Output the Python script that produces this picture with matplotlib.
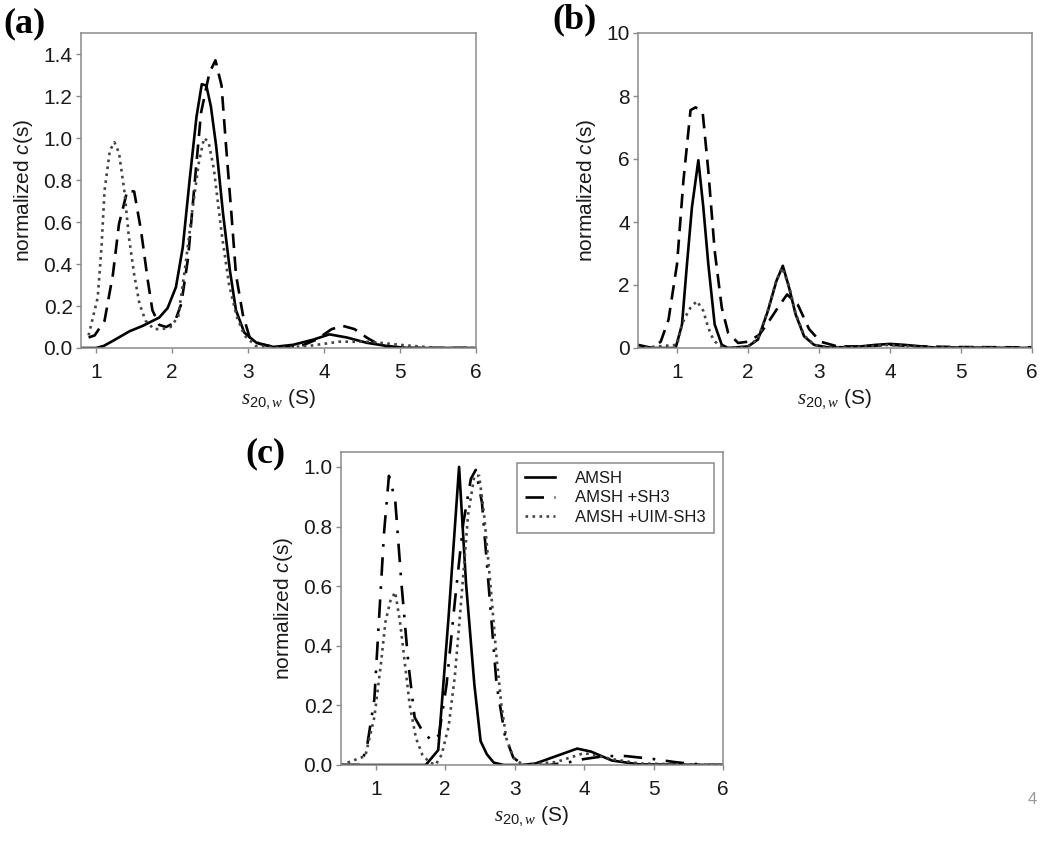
import numpy as np
import matplotlib.pyplot as plt

plt.rcParams['font.family'] = ['Liberation Sans', 'DejaVu Sans']
plt.rcParams['mathtext.fontset'] = 'custom'
plt.rcParams['mathtext.it'] = 'Liberation Serif:italic'
plt.rcParams['mathtext.rm'] = 'Liberation Sans'
plt.rcParams['mathtext.sf'] = 'Liberation Sans:italic'

# %% data
names = ['AMSH', 'AMSH +SH3', 'AMSH +UIM-SH3']

# (a)
a_amsh_x = [0.8, 1.0, 1.1, 1.22, 1.44, 1.61, 1.83, 1.94, 2.05, 2.14, 2.23, 2.32, 2.39, 2.45, 2.51, 2.58,
            2.67, 2.76, 2.84, 2.95, 3.11, 3.33, 3.59, 3.86, 4.07, 4.3, 4.56, 4.82, 5.1, 6.0]
a_amsh_y = [0.0, 0.0, 0.01, 0.034, 0.08, 0.105, 0.145, 0.19, 0.29, 0.48, 0.80, 1.10, 1.256, 1.25, 1.15, 0.96,
            0.64, 0.37, 0.18, 0.073, 0.025, 0.005, 0.015, 0.04, 0.065, 0.05, 0.025, 0.01, 0.0, 0.0]
a_sh3_x = [0.9, 0.98, 1.11, 1.22, 1.30, 1.41, 1.50, 1.59, 1.68, 1.74, 1.83, 1.92, 2.03, 2.12, 2.21, 2.30, 2.38,
           2.49, 2.57, 2.65, 2.71, 2.78, 2.84, 2.93, 3.02, 3.15, 3.4, 3.7, 3.9, 4.1, 4.25, 4.4, 4.56, 4.75, 5.0, 6.0]
a_sh3_y = [0.05, 0.06, 0.13, 0.35, 0.59, 0.75, 0.745, 0.56, 0.32, 0.18, 0.11, 0.10, 0.12, 0.21, 0.43, 0.80, 1.12,
           1.31, 1.37, 1.25, 0.96, 0.64, 0.35, 0.16, 0.05, 0.02, 0.0, 0.01, 0.04, 0.09, 0.105, 0.09, 0.05, 0.01, 0.0, 0.0]
a_uim_x = [0.9, 1.02, 1.07, 1.11, 1.18, 1.24, 1.30, 1.37, 1.43, 1.50, 1.57, 1.65, 1.76, 1.87, 1.98, 2.08, 2.17,
           2.26, 2.35, 2.42, 2.48, 2.55, 2.65, 2.75, 2.85, 2.95, 3.1, 3.4, 3.8, 4.2, 4.6, 5.0, 5.5, 6.0]
a_uim_y = [0.06, 0.24, 0.48, 0.75, 0.94, 0.98, 0.93, 0.75, 0.53, 0.35, 0.21, 0.13, 0.09, 0.09, 0.10, 0.15, 0.38,
           0.64, 0.88, 1.0, 0.98, 0.85, 0.55, 0.3, 0.15, 0.06, 0.01, 0.0, 0.01, 0.03, 0.03, 0.015, 0.0, 0.0]

# (b)
b_amsh_x = [0.45, 0.98, 1.07, 1.14, 1.21, 1.30, 1.37, 1.44, 1.53, 1.63, 1.72, 2.0, 2.14, 2.28, 2.40, 2.49, 2.58,
            2.67, 2.79, 2.93, 3.12, 3.5, 3.8, 4.0, 4.2, 4.6, 6.0]
b_amsh_y = [0, 0, 0.75, 2.67, 4.47, 5.96, 4.47, 2.67, 0.75, 0.1, 0.0, 0.05, 0.27, 1.18, 2.13, 2.61, 1.9,
            1.07, 0.37, 0.1, 0.02, 0.03, 0.1, 0.13, 0.1, 0.02, 0.0]
b_sh3_x = [0.45, 0.55, 0.65, 0.77, 0.88, 1.0, 1.09, 1.19, 1.26, 1.36, 1.44, 1.53, 1.63, 1.72, 1.86, 2.0, 2.16,
           2.28, 2.42, 2.55, 2.70, 2.86, 3.02, 3.26, 3.6, 4.0, 4.4, 5.0, 6.0]
b_sh3_y = [0.1, 0.05, 0.0, 0.2, 0.9, 2.67, 5.32, 7.55, 7.64, 7.5, 5.64, 3.09, 1.28, 0.48, 0.16, 0.2, 0.42,
           0.8, 1.28, 1.7, 1.38, 0.6, 0.2, 0.05, 0.05, 0.1, 0.05, 0.03, 0.02]
b_uim_x = [0.45, 1.0, 1.07, 1.12, 1.19, 1.28, 1.37, 1.44, 1.51, 1.60, 1.75, 2.0, 2.14, 2.28, 2.40, 2.48, 2.58,
           2.67, 2.79, 2.93, 3.12, 3.5, 4.0, 4.5, 6.0]
b_uim_y = [0, 0.1, 0.75, 1.0, 1.28, 1.49, 1.18, 0.64, 0.27, 0.05, 0.0, 0.05, 0.3, 1.2, 2.15, 2.55, 1.95,
           1.1, 0.4, 0.1, 0.02, 0.02, 0.1, 0.02, 0.0]

# (c)
c_amsh_x = [0.5, 1.72, 1.81, 1.90, 2.05, 2.20, 2.30, 2.42, 2.51, 2.60, 2.70, 2.84, 3.1, 3.3, 3.6, 3.9, 4.1,
            4.4, 4.8, 6.0]
c_amsh_y = [0, 0, 0.025, 0.05, 0.5, 1.0, 0.61, 0.27, 0.08, 0.036, 0.008, 0.0, 0.0, 0.005, 0.03, 0.055, 0.045,
            0.015, 0.002, 0.0]
c_sh3_x = [0.5, 0.79, 0.88, 0.98, 1.05, 1.12, 1.19, 1.28, 1.37, 1.47, 1.56, 1.67, 1.81, 1.91, 2.02, 2.14, 2.26,
           2.37, 2.44, 2.53, 2.63, 2.74, 2.86, 2.98, 3.12, 3.5, 3.8, 4.0, 4.3, 4.6, 5.0, 5.3, 5.5, 5.8, 6.0]
c_sh3_y = [0, 0, 0.07, 0.22, 0.5, 0.78, 0.97, 0.89, 0.61, 0.34, 0.16, 0.115, 0.08, 0.10, 0.27, 0.55, 0.81,
           0.96, 0.99, 0.88, 0.59, 0.27, 0.10, 0.025, 0.0, 0.0, 0.01, 0.02, 0.03, 0.03, 0.02, 0.01, 0.005, 0.0, 0.0]
c_uim_x = [0.5, 0.85, 0.98, 1.07, 1.14, 1.21, 1.28, 1.35, 1.42, 1.49, 1.58, 1.67, 1.77, 1.86, 1.95, 2.05, 2.14,
           2.23, 2.33, 2.42, 2.49, 2.56, 2.65, 2.74, 2.81, 2.88, 2.98, 3.12, 3.6, 4.0, 4.4, 4.8, 6.0]
c_uim_y = [0, 0.03, 0.16, 0.33, 0.48, 0.55, 0.58, 0.48, 0.34, 0.2, 0.09, 0.035, 0.01, 0.0, 0.035, 0.13, 0.3,
           0.55, 0.84, 0.97, 0.97, 0.84, 0.61, 0.36, 0.2, 0.09, 0.025, 0.0, 0.01, 0.04, 0.02, 0.005, 0.0]

a_yticks = [0.0, 0.2, 0.4, 0.6, 0.8, 1.0, 1.2, 1.4]
b_yticks = [0, 2, 4, 6, 8, 10]
c_yticks = [0.0, 0.2, 0.4, 0.6, 0.8, 1.0]
xticks = [1, 2, 3, 4, 5, 6]

# %% figure
fig = plt.figure(figsize=(10.5, 8.41), dpi=100)
W, H = 1050, 841


def make_ax(l, t, r, b):
    return fig.add_axes([l / W, 1 - b / H, (r - l) / W, (b - t) / H])


axa = make_ax(81, 33, 476, 348)
axb = make_ax(638, 33, 1032, 348)
axc = make_ax(341, 452, 723, 765)

grey = '#8a8a8a'
ink = '#1a1a1a'
dash_ab = (0, (5.5, 3.2))
dash_c = (0, (7, 4, 1, 4))


def style(ax, xlim, ylim, yticks, yfmt, ypad):
    ax.set_xlim(xlim)
    ax.set_ylim(ylim)
    ax.set_xticks(xticks)
    ax.set_yticks(yticks)
    ax.set_yticklabels([yfmt % v for v in yticks])
    for s in ax.spines.values():
        s.set_color(grey)
        s.set_linewidth(1.1)
    ax.tick_params(direction='out', length=3.5, width=1, color=grey, labelsize=15, labelcolor=ink)
    ax.tick_params(axis='x', pad=7)
    ax.tick_params(axis='y', pad=2.5)
    ax.set_xlabel(r'$\mathit{s}_{\mathit{20,w}}$ (S)', fontsize=15, color=ink, labelpad=4)
    ax.set_ylabel(r'normalized $\mathsf{c}$(s)', fontsize=15, color=ink, labelpad=ypad)


axa.plot(a_amsh_x, a_amsh_y, color='black', lw=1.9, label=names[0])
axa.plot(a_sh3_x, a_sh3_y, color='black', lw=1.9, linestyle=dash_ab, label=names[1])
axa.plot(a_uim_x, a_uim_y, color='#444444', lw=1.9, linestyle=':', label=names[2])
style(axa, (0.8, 6), (0, 1.5), a_yticks, '%.1f', 6)

axb.plot(b_amsh_x, b_amsh_y, color='black', lw=1.9, label=names[0])
axb.plot(b_sh3_x, b_sh3_y, color='black', lw=1.9, linestyle=dash_ab, label=names[1])
axb.plot(b_uim_x, b_uim_y, color='#444444', lw=1.9, linestyle=':', label=names[2])
style(axb, (0.45, 6), (0, 10), b_yticks, '%d', 6)

axc.plot(c_amsh_x, c_amsh_y, color='black', lw=1.9, label=names[0])
axc.plot(c_sh3_x, c_sh3_y, color='black', lw=1.9, linestyle=dash_c, label=names[1])
axc.plot(c_uim_x, c_uim_y, color='#444444', lw=1.9, linestyle=':', label=names[2])
style(axc, (0.5, 6), (0, 1.05), c_yticks, '%.1f', 6)

leg = axc.legend(loc='upper right', bbox_to_anchor=(0.976, 0.965), borderaxespad=0, fontsize=12,
                 handlelength=1.8, handletextpad=1.2, borderpad=0.5, labelspacing=0.25,
                 fancybox=False, framealpha=1)
leg.get_frame().set_edgecolor(grey)
leg.get_frame().set_linewidth(1.1)
for t in leg.get_texts():
    t.set_color(ink)

# panel letters
lab = dict(fontsize=26, fontweight='bold', family='Liberation Serif', va='center', ha='left')
fig.text(3 / W, 1 - 24 / H, '(a)', **lab)
fig.text(552 / W, 1 - 20 / H, '(b)', **lab)
fig.text(245 / W, 1 - 454 / H, '(c)', **lab)

# page number
fig.text(1032 / W, 1 - 799 / H, '4', fontsize=12, color='#999999', ha='center', va='center')

plt.savefig('out.png', dpi=100)
